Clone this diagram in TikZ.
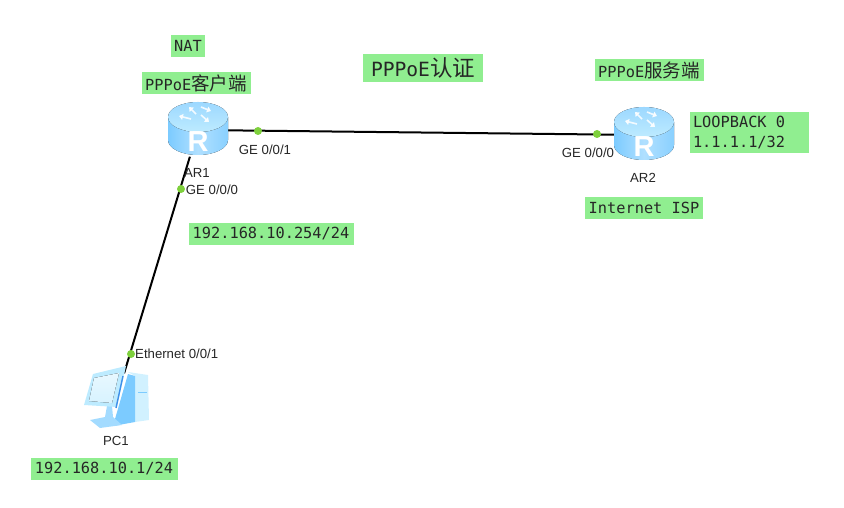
\documentclass[tikz,border=0pt]{standalone}
\usepackage{fontspec}
\setmainfont{Liberation Sans}
\setmonofont{DejaVu Sans Mono}
\newfontfamily\cjk{Noto Sans CJK SC}
\definecolor{mygreen}{HTML}{90EE90}
\definecolor{mylink}{HTML}{7ED03C}
\definecolor{myblue}{HTML}{7CCBFF}
\definecolor{mylightblue}{HTML}{BDEBFF}
\definecolor{myseam}{HTML}{3F8FE8}
\usetikzlibrary{positioning, arrows.meta}
\newcommand{\smallcjk}[1]{{\fontsize{18.5}{18.5}\cjk #1}}
\newcommand{\largecjk}[1]{{\fontsize{22.5}{22.5}\cjk #1}}
\tikzset{
	notenode/.style={
			shape=rectangle,
			fill=mygreen,
			text=black!85,
			inner sep=0pt,
			minimum height=22pt,
			font=\fontsize{15.3}{20}\ttfamily
		},
	portnode/.style={
			inner sep=0pt,
			text=black!85,
			font=\fontsize{13.2}{15}\selectfont
		},
	linknode/.style={
			circle,
			fill=mylink,
			minimum size=8pt,
			inner sep=0pt
		},
	devicenode/.style={
			shape=rectangle,
			minimum width=60pt,
			minimum height=53pt,
			inner sep=0pt
		},
	linkline/.style={
			black,
			line width=2pt
		},
	iconarrow/.style={
			white,
			line width=1.6pt,
			opacity=0.85,
			-{Triangle[length=4pt, width=6pt]}
		}
}
\newcommand{\routericon}[1]{
  \begin{scope}[shift={(#1)}]
    \fill[left color=myblue, right color=myblue!90, middle color=myblue!60]
      (-30,-13) -- (-30,10) arc[start angle=180, end angle=360, x radius=30pt, y radius=15pt]
      -- (30,-13) -- cycle;
    \fill[top color=myblue!75, bottom color=mylightblue] (0,-13) ellipse[x radius=30pt, y radius=15pt];
    \draw[iconarrow] (-2,-16) -- (-9,-23);
    \draw[iconarrow] (3,-23) -- (13,-19);
    \draw[iconarrow] (-7,-11) -- (-19,-14);
    \draw[iconarrow] (3,-15) -- (11,-8);
    \node[white, font=\bfseries\fontsize{29}{29}\selectfont] at (0,12) {R};
  \end{scope}
}
\begin{document}
\begin{tikzpicture}[x=1pt, y=-1pt]
  \useasboundingbox (0,0) rectangle (844,508);

  \node[devicenode] (r1) at (198,130) {};
  \node[devicenode] (r2) at (644,135) {};
  \node[devicenode] (pc1) at (116,400) {};

  \draw[linkline] (r1) -- (r2);
  \draw[linkline] (r1) -- (pc1);

  \routericon{r1}
  \routericon{r2}

  % pc
  \fill[mylightblue!70!white] (128,372) -- (148,375) -- (149,420) -- (135,422) -- (135,376) -- cycle;
  \fill[myblue] (128,374) -- (135,376) -- (135,422) -- (113,426) -- cycle;
  \fill[myblue!70] (90,420) -- (105,417) -- (107,406) -- (112,406) -- (113,417) -- (122,425) -- (100,428) -- cycle;
  \fill[mylightblue] (93,374) -- (126,366) -- (117,407) -- (84,405) -- cycle;
  \fill[top color=mylightblue!35!white, bottom color=mylightblue!60!white] (94,378) -- (119,373) -- (112,403) -- (89,401) -- cycle;
  \draw[myseam, line width=1.4pt] (123,376) -- (116,408);
  \draw[myblue, line width=0.8pt] (138,392) -- (147,392);

  \node[linknode] (p1) at (258,131) {};
  \node[linknode] (p2) at (597,134) {};
  \node[linknode] (p3) at (181,189) {};
  \node[linknode] (p4) at (131,354) {};

  \node[portnode] (l1) at (265,150) {GE 0/0/1};
  \node[portnode] (l2) at (588,153) {GE 0/0/0};
  \node[portnode] (l3) at (212,190) {GE 0/0/0};
  \node[portnode, anchor=west] (l4) at (135,354) {Ethernet 0/0/1};
  \node[portnode] (n1) at (197,173) {AR1};
  \node[portnode] (n2) at (643,178) {AR2};
  \node[portnode] (n3) at (116,441) {PC1};

  \node[notenode, minimum width=34pt] (t1) at (188,46) {NAT};
  \node[notenode, minimum width=109pt] (t2) at (196,83) {PPPoE\smallcjk{客户端}};
  \node[notenode, minimum width=109pt] (t3) at (649,70) {PPPoE\smallcjk{服务端}};
  \node[notenode, minimum width=120pt, font=\fontsize{19.6}{22}\ttfamily, minimum height=28pt] (t4) at (423,68) {PPPoE\largecjk{认证}};
  \node[notenode, inner xsep=3.5pt, text width=112pt, minimum height=41pt, align=flush left] (t5) at (749,133) {LOOPBACK 0\\1.1.1.1/32};
  \node[notenode, minimum width=118pt] (t6) at (644,208) {Internet ISP};
  \node[notenode, minimum width=165pt] (t7) at (271,234) {192.168.10.254/24};
  \node[notenode, minimum width=147pt] (t8) at (104,469) {192.168.10.1/24};

\end{tikzpicture}
\end{document}
